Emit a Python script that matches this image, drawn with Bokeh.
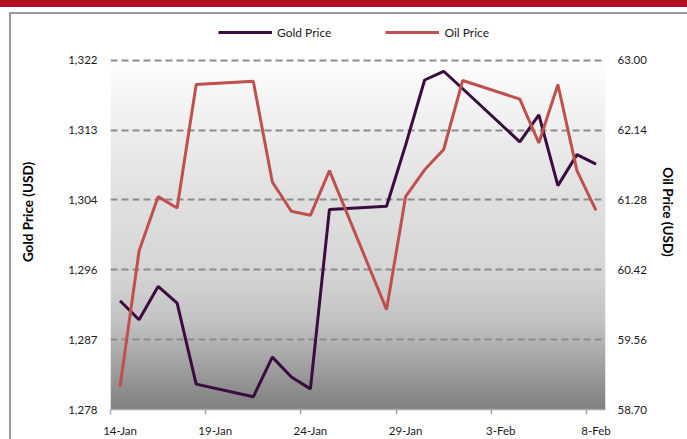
import numpy as np
import pandas as pd
from bokeh.plotting import figure
from bokeh.layouts import column
from bokeh.models import (Range1d, LinearAxis, FixedTicker, NumeralTickFormatter,
                          DatetimeTickFormatter, Legend, LegendItem)
from bokeh.embed import file_html
from bokeh.resources import INLINE

# ---- data ----
dates = ["2019-01-14", "2019-01-15", "2019-01-16", "2019-01-17", "2019-01-18",
         "2019-01-21", "2019-01-22", "2019-01-23", "2019-01-24", "2019-01-25",
         "2019-01-28", "2019-01-29", "2019-01-30", "2019-01-31", "2019-02-01",
         "2019-02-04", "2019-02-05", "2019-02-06", "2019-02-07", "2019-02-08"]
gold = [1291.7, 1289.3, 1293.5, 1291.4, 1281.2,
        1279.6, 1284.6, 1282.1, 1280.6, 1303.2,
        1303.6, 1311.3, 1319.5, 1320.6, 1318.4,
        1311.7, 1315.1, 1306.2, 1310.1, 1308.9]
oil = [58.98, 60.65, 61.32, 61.18, 62.70,
       62.74, 61.50, 61.14, 61.09, 61.64,
       59.93, 61.32, 61.65, 61.90, 62.75,
       62.52, 61.98, 62.70, 61.64, 61.15]
x_tick_dates = ["2019-01-14", "2019-01-19", "2019-01-24", "2019-01-29", "2019-02-03", "2019-02-08"]
gold_ticks = [1278, 1286.8, 1295.6, 1304.4, 1313.2, 1322]
oil_ticks = [58.70, 59.56, 60.42, 61.28, 62.14, 63.00]

FONT = "Lato"
TXT = "#1a1a1a"

# the plot frame also holds the legend strip above the tick range
FRAME_TOP, FRAME_BOTTOM, GRID_TOP = 14, 412, 60
extra = (GRID_TOP - FRAME_TOP) / (FRAME_BOTTOM - GRID_TOP)
g_span = gold_ticks[-1] - gold_ticks[0]
o_span = oil_ticks[-1] - oil_ticks[0]

half = pd.Timedelta(hours=12)
x = pd.to_datetime(dates) + half
x_start = pd.Timestamp("2019-01-14")
x_end = pd.Timestamp("2019-02-09")
xs_ms = x_start.value // 10**6
xe_ms = x_end.value // 10**6

p = figure(width=687, height=439, x_axis_type="datetime",
           x_range=Range1d(xs_ms, xe_ms),
           y_range=Range1d(gold_ticks[0], gold_ticks[-1] + g_span * extra),
           output_backend="svg", toolbar_location=None,
           min_border_left=110, min_border_right=82,
           min_border_top=FRAME_TOP, min_border_bottom=439 - FRAME_BOTTOM)
p.extra_y_ranges = {"oil": Range1d(oil_ticks[0], oil_ticks[-1] + o_span * extra)}
p.outline_line_color = None
p.background_fill_alpha = 0
p.border_fill_alpha = 0

# gradient background of the tick area
N = 256
t = np.linspace(0, 1, N)  # 0 = bottom, 1 = top
stops_t = [0.0, 0.12, 0.25, 0.4, 0.6, 0.8, 1.0]
stops_v = [128, 160, 195, 214, 224, 238, 254]
v = np.interp(t, stops_t, stops_v).astype(np.uint8)
img = np.empty((N, 1), dtype=np.uint32)
view = img.view(dtype=np.uint8).reshape((N, 1, 4))
view[:, 0, 0] = v
view[:, 0, 1] = v
view[:, 0, 2] = v
view[:, 0, 3] = 255
p.image_rgba(image=[img], x=xs_ms, y=gold_ticks[0], dw=xe_ms - xs_ms,
             dh=g_span, level="image")

# grid
p.xgrid.visible = False
p.ygrid.ticker = FixedTicker(ticks=gold_ticks[1:])
p.ygrid.grid_line_color = "#8c8c8c"
p.ygrid.grid_line_width = 2
p.ygrid.grid_line_dash = "7 4"
p.ygrid.level = "underlay"

# lines
r_gold = p.line(x, gold, line_color="#3b0c40", line_width=3)
r_oil = p.line(x, oil, line_color="#c0504d", line_width=3, y_range_name="oil")

# x axis
xa = p.xaxis[0]
maj = (pd.to_datetime(x_tick_dates) + half).asi8 // 10**6
mnr = pd.to_datetime(x_tick_dates).asi8 // 10**6
xa.ticker = FixedTicker(ticks=list(maj), minor_ticks=list(mnr))
fmt = "%-d-%b"
xa.formatter = DatetimeTickFormatter(microseconds=fmt, milliseconds=fmt, seconds=fmt,
                                     minsec=fmt, minutes=fmt, hourmin=fmt, hours=fmt,
                                     days=fmt, months=fmt, years=fmt)
xa.major_tick_line_color = None
xa.major_tick_out = 0
xa.major_tick_in = 0
xa.minor_tick_line_color = "#a6a6a6"
xa.minor_tick_line_width = 1.5
xa.minor_tick_out = 5
xa.minor_tick_in = 0
xa.axis_line_color = "#a6a6a6"
xa.axis_line_width = 1.5
xa.major_label_standoff = 9
xa.major_label_text_font = FONT
xa.major_label_text_font_size = "11.5px"
xa.major_label_text_color = TXT

# left axis
ya = p.yaxis[0]
ya.ticker = FixedTicker(ticks=gold_ticks)
ya.formatter = NumeralTickFormatter(format="0,0")
ya.axis_line_color = None
ya.major_tick_line_color = None
ya.minor_tick_line_color = None
ya.major_tick_out = 0
ya.major_label_standoff = 13
ya.major_label_text_font = FONT
ya.major_label_text_font_size = "11.5px"
ya.major_label_text_color = TXT
ya.axis_label = "Gold Price (USD)"
ya.axis_label_text_font = FONT
ya.axis_label_text_font_style = "bold"
ya.axis_label_text_font_size = "13.5px"
ya.axis_label_text_color = "#000000"
ya.axis_label_standoff = 29

# right axis
ra = LinearAxis(y_range_name="oil", ticker=FixedTicker(ticks=oil_ticks),
                formatter=NumeralTickFormatter(format="0.00"))
ra.axis_line_color = None
ra.major_tick_line_color = None
ra.minor_tick_line_color = None
ra.major_tick_out = 0
ra.major_label_standoff = 12
ra.major_label_text_font = FONT
ra.major_label_text_font_size = "11.5px"
ra.major_label_text_color = TXT
ra.axis_label = "Oil Price (USD)"
ra.axis_label_text_font = FONT
ra.axis_label_text_font_style = "bold"
ra.axis_label_text_font_size = "13.5px"
ra.axis_label_text_color = "#000000"
ra.axis_label_standoff = 10
p.add_layout(ra, "right")

# legend (inside the frame strip above the top gridline)
legend = Legend(items=[LegendItem(label="Gold Price", renderers=[r_gold]),
                       LegendItem(label="Oil Price", renderers=[r_oil])],
                orientation="horizontal", location=(108, FRAME_BOTTOM - 45),
                glyph_width=54, glyph_height=20, label_height=20, label_width=54,
                label_standoff=5, spacing=54, padding=0, margin=0,
                label_text_font=FONT, label_text_font_size="12px", label_text_color=TXT,
                border_line_color=None, background_fill_alpha=0)
p.add_layout(legend, "center")

# page frame: red banner on top and grey frame lines, painted behind the transparent plot
band = "linear-gradient(#b50f23,#b50f23) no-repeat 0px 0px / 100% 7px"
top_line = "linear-gradient(#9a9a9a,#9a9a9a) no-repeat 9px 12px / 100% 2px"
left_line = "linear-gradient(#9a9a9a,#9a9a9a) no-repeat 9px 12px / 2px 100%"
layout = column(p, width=687, height=439,
                styles={"background": f"{band}, {top_line}, {left_line}, #ffffff"})

open("out.html", "w").write(file_html(layout, INLINE))
